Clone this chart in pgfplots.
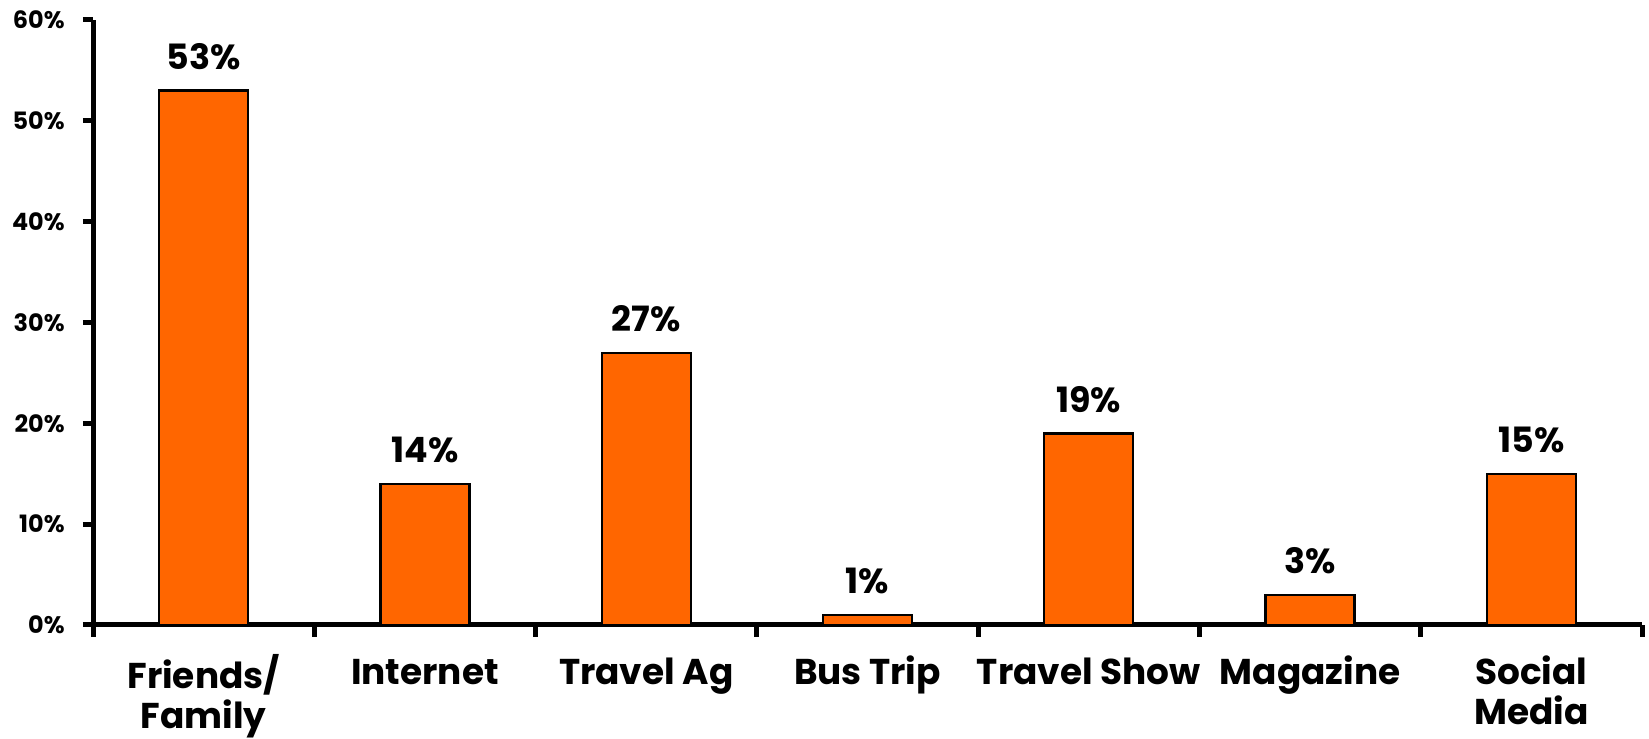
\documentclass[border=0pt]{standalone}
\usepackage{fontspec}
\setmainfont{Poppins}
\usepackage{pgfplots}
\pgfplotsset{compat=1.18}
\usetikzlibrary{calc}
\definecolor{barorange}{HTML}{FF6600}
\newcommand\st{\rule{0pt}{15bp}}
\begin{document}
\begin{tikzpicture}
\begin{axis}[name=ax, at={(0,0)}, anchor=south west,
 scale only axis, width=774.5bp, height=302.5bp,
 ymin=0, ymax=60, xmin=-0.5, xmax=6.5,
 enlarge x limits=false,
 axis x line*=bottom, axis y line*=left,
 axis line style={line width=2.5bp},
 ytick={0,10,...,60},
 yticklabel={\pgfmathprintnumber{\tick}\%},
 /pgf/number format/assume math mode=true,
 xtick={0,...,6},
 xticklabels={{\st Friends/\\Family},{\st Internet},{\st Travel Ag},{\st Bus Trip},{\st Travel Show},{\st Magazine},{\st Social\\Media}},
 minor xtick={-0.5,0.5,...,6.5},
 tick align=outside,
 major tick length=5bp, minor tick length=6bp,
 tick style={line width=2.5bp, black},
 major x tick style={draw=none},
 yticklabel style={font=\bfseries\fontsize{12}{15}\selectfont, anchor=east, inner sep=0pt, xshift=-9bp},
 xticklabel style={font=\bfseries\fontsize{18}{20}\selectfont, align=center, anchor=north, inner sep=0pt, yshift=-9.5bp},
 ybar, bar width=44.5bp,
 nodes near coords={\pgfmathprintnumber{\pgfplotspointmeta}\%},
 nodes near coords style={font=\bfseries\fontsize{17.5}{20}\selectfont, anchor=base, inner sep=0pt, yshift=10.5bp},
]
\addplot[fill=barorange, draw=black, line width=1.1bp] coordinates {(0,53) (1,14) (2,27) (3,1) (4,19) (5,3) (6,15)};
\end{axis}
\pgfresetboundingbox
\path[use as bounding box] ($(ax.south west)+(-46.5bp,-57bp)$) rectangle ($(ax.north east)+(3.5bp,10bp)$);
\end{tikzpicture}
\end{document}
